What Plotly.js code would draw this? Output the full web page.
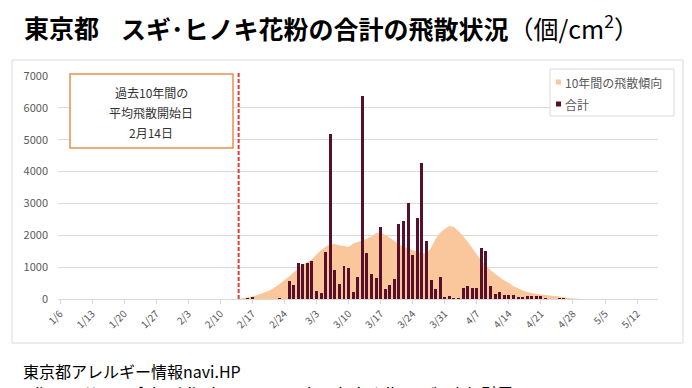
<!DOCTYPE html>
<html><head><meta charset="utf-8">
<script src="https://cdn.plot.ly/plotly-3.0.1.min.js"></script>
<style>html,body{margin:0;padding:0;background:#fff;overflow:hidden;} #chart{width:692px;height:388px;}</style>
</head><body><div id="chart"></div>
<script>
// ---- data ----
const tickLabels = ['1/6','1/13','1/20','1/27','2/3','2/10','2/17','2/24','3/3','3/10','3/17','3/24','3/31','4/7','4/14','4/21','4/28','5/5','5/12'];
const seriesNames = ['10年間の飛散傾向', '合計'];
// day offsets counted from 1/6
const trendStartDay = 39;   // 2/14
const trendValues = [0,30,55,80,120,170,230,290,380,480,600,710,830,960,1070,1150,1250,1400,1530,1650,
  1710,1730,1690,1660,1630,1740,1790,1840,1890,1970,2060,2090,2010,1920,1820,1720,1650,1590,1530,1480,
  1440,1430,1600,1880,2080,2200,2290,2260,2130,1980,1800,1600,1400,1200,1050,900,790,680,580,500,
  400,340,270,220,190,160,140,125,110,95,80,55,35,15,8,3,0];
const totalStartDay = 41;   // 2/16
const totalValues = [30,55,0,0,0,0,0,30,0,580,445,1135,1094,1144,1186,250,177,1478,5166,905,
  478,1030,978,218,687,6364,1447,790,656,2260,322,447,625,2364,2437,3000,1395,2540,4270,1822,
  593,302,677,67,88,40,20,338,395,354,343,1603,1520,416,156,208,114,125,130,52,
  62,94,83,94,94,42,0,0,20,20];
const startLineDay = 39;    // 2月14日
const boxLines = ['過去10年間の', '平均飛散開始日', '2月14日'];
const titleMain = '東京都';
const titleSub = 'スギ･ヒノキ花粉の合計の飛散状況';
const titleUnit = '（個/cm<sup>2</sup>）';
const sourceText = '東京都アレルギー情報navi.HP';
const sourceUrl = '（https://www.fukushihoken.metro.tokyo.lg.jp/allergy/）より引用';

// ---- layout helpers (pixel -> paper) ----
const L = 58, R = 658, T = 76, B = 299;
const px = x => (x - L) / (R - L);
const py = y => (B - y) / (B - T);
const FONT = '"Noto Sans CJK JP", "Noto Sans", sans-serif';
const GRAY = '#595959';

const trendX = trendValues.map((_, i) => trendStartDay + i);
const totalX = totalValues.map((_, i) => totalStartDay + i);
const tickVals = tickLabels.map((_, i) => i * 7);

const traces = [
  { type: 'scatter', x: trendX, y: trendValues, mode: 'none', fill: 'tozeroy',
    fillcolor: '#F9C79B', name: seriesNames[0], showlegend: false, xaxis: 'x', yaxis: 'y' },
  { type: 'bar', x: totalX, y: totalValues, width: 0.65, name: seriesNames[1],
    marker: { color: '#570F2B', line: { width: 0 } }, showlegend: false, xaxis: 'x', yaxis: 'y2' }
];

const shapes = [
  // chart frame
  { type: 'rect', xref: 'paper', yref: 'paper', x0: px(12), x1: px(683), y0: py(343), y1: py(60),
    line: { color: '#d9d9d9', width: 1 }, fillcolor: 'rgba(0,0,0,0)', layer: 'below' },
  // start date line
  { type: 'line', xref: 'x', yref: 'paper', x0: startLineDay, x1: startLineDay, y0: 0, y1: py(72),
    line: { color: '#E53935', width: 2, dash: '4px,2px' } },
  // info box
  { type: 'rect', xref: 'paper', yref: 'paper', x0: px(70), x1: px(233), y0: py(148), y1: py(74),
    line: { color: '#E8904A', width: 1.5 }, fillcolor: '#ffffff' },
  // legend box
  { type: 'rect', xref: 'paper', yref: 'paper', x0: px(550), x1: px(674), y0: py(116), y1: py(69),
    line: { color: '#d9d9d9', width: 1 }, fillcolor: '#ffffff' },
  { type: 'rect', xref: 'paper', yref: 'paper', x0: px(556), x1: px(561), y0: py(84.5), y1: py(79.5),
    line: { width: 0 }, fillcolor: '#F9C79B' },
  { type: 'rect', xref: 'paper', yref: 'paper', x0: px(556), x1: px(561), y0: py(106.5), y1: py(101.5),
    line: { width: 0 }, fillcolor: '#570F2B' }
];

const ann = (text, x, y, size, opts) => Object.assign({
  text, xref: 'paper', yref: 'paper', x: px(x), y: py(y), xanchor: 'left', yanchor: 'middle',
  showarrow: false, font: { family: FONT, size, color: '#000' }
}, opts || {});

const annotations = [
  ann('<b>' + titleMain + '</b>', 22, 27, 25),
  ann('<b>' + titleSub + '</b>' + titleUnit, 119, 27, 25),
  ann(boxLines[0], 151, 92, 12, { xanchor: 'center', font: { family: FONT, size: 12, color: '#333' } }),
  ann(boxLines[1], 151, 112, 12, { xanchor: 'center', font: { family: FONT, size: 12, color: '#333' } }),
  ann(boxLines[2], 151, 132, 12, { xanchor: 'center', font: { family: FONT, size: 12, color: '#333' } }),
  ann(seriesNames[0], 563, 82, 12, { font: { family: FONT, size: 12, color: GRAY } }),
  ann(seriesNames[1], 563, 104, 12, { font: { family: FONT, size: 12, color: GRAY } }),
  ann(sourceText, 21, 371, 16),
  ann(sourceUrl, 21, 393, 16)
];

const layout = {
  width: 692, height: 388,
  margin: { l: L, r: 692 - R, t: T, b: 388 - B, pad: 0 },
  paper_bgcolor: '#fff', plot_bgcolor: '#fff',
  showlegend: false,
  bargap: 0,
  font: { family: FONT, color: GRAY },
  xaxis: {
    range: [-0.44, 130.56], tickmode: 'array', tickvals: tickVals, ticktext: tickLabels,
    tickangle: -45, tickfont: { family: FONT, size: 10, color: GRAY },
    showgrid: false, zeroline: false, showline: true, linecolor: '#d9d9d9', linewidth: 1,
    ticks: 'outside', ticklen: 4, tickcolor: '#d9d9d9', fixedrange: true
  },
  yaxis: {
    range: [0, 7000], dtick: 1000, tick0: 0, showgrid: true, gridcolor: '#d9d9d9', gridwidth: 1,
    zeroline: false, showline: false, ticks: '', ticklabelstandoff: 9,
    tickfont: { family: FONT, size: 11, color: GRAY }, fixedrange: true
  },
  yaxis2: {
    range: [0, 7000], overlaying: 'y', side: 'left', showgrid: false, zeroline: false,
    showline: false, ticks: '', showticklabels: false, fixedrange: true
  },
  shapes, annotations
};

Plotly.newPlot('chart', traces, layout, { displayModeBar: false, staticPlot: true });
</script></body></html>
